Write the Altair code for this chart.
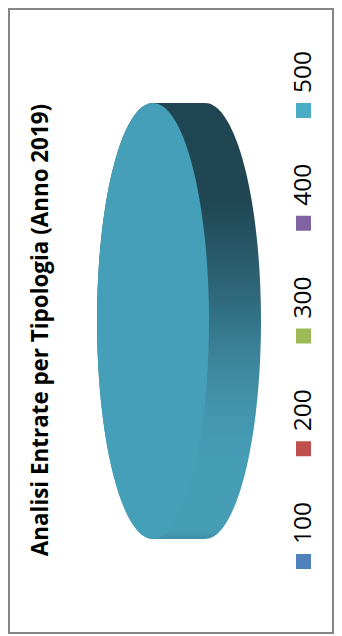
import altair as alt
import pandas as pd

categories = ["100", "200", "300", "400", "500"]
values = [0, 0, 0, 0, 100]
colors = ["#4F81BD", "#C0504D", "#9BBB59", "#8064A2", "#4BACC6"]
title_text = ["Analisi Entrate per Tipologia (Anno 2019)"]

df = pd.DataFrame({"cat": categories, "val": values})
W, H = 324, 624
OX, OY = 9, 9  # page position of the plot origin

RY = 218.0
RX = 56.0 / RY
EX = 52.0 / RY
FACE = f"M0,-1 A{RX},1 0 0,1 0,1 A{RX},1 0 0,1 0,-1 Z"
SIDE = f"M0,-1 L{EX},-1 A{RX},1 0 0,1 {EX},1 L0,1 A{RX},1 0 0,1 0,-1 Z"
SIZE = (2 * RY) ** 2
CX, CY = 153 - OX, 321 - OY

gradient = alt.Gradient(
    gradient="linear", x1=0, x2=0, y1=0, y2=1,
    stops=[
        alt.GradientStop(color="#1F4652", offset=0.0),
        alt.GradientStop(color="#1F4652", offset=0.22),
        alt.GradientStop(color="#2F6A7C", offset=0.45),
        alt.GradientStop(color="#3B8298", offset=0.57),
        alt.GradientStop(color="#4295AD", offset=0.70),
        alt.GradientStop(color="#469DB6", offset=0.82),
        alt.GradientStop(color="#469DB6", offset=0.98),
        alt.GradientStop(color="#3F8FA7", offset=1.0),
    ],
)

base = alt.Chart(df)
shown = base.transform_filter("datum.val > 0")

side = shown.mark_point(filled=True, shape=SIDE, size=SIZE, fill=gradient, opacity=1, strokeWidth=0).encode(
    x=alt.value(CX), y=alt.value(CY))
face = shown.mark_point(filled=True, shape=FACE, size=SIZE, fill="#469FB9", opacity=1, strokeWidth=0).encode(
    x=alt.value(CX), y=alt.value(CY))

ypos = alt.Y("cat:N", sort=categories, axis=None,
             scale=alt.Scale(range=[561.5 - OY, 110.5 - OY], padding=0))

squares = base.mark_square(size=225, opacity=1, strokeWidth=0).encode(
    x=alt.value(303.5 - OX),
    y=ypos,
    color=alt.Color("cat:N", sort=categories, legend=None,
                    scale=alt.Scale(domain=categories, range=colors)),
)
labels = base.mark_text(angle=270, align="left", baseline="middle", font="Open Sans",
                        fontSize=24.5, color="#000000", dy=0).encode(
    x=alt.value(304 - OX),
    y=alt.Y("cat:N", sort=categories, axis=None,
            scale=alt.Scale(range=[544 - OY, 93 - OY], padding=0)),
    text="cat:N",
)
title = alt.Chart(pd.DataFrame({"t": title_text})).mark_text(
    angle=270, align="center", baseline="middle", font="Open Sans", fontWeight="bold",
    fontSize=22.4, color="#000000").encode(
    x=alt.value(41 - OX), y=alt.value(330 - OY), text="t:N")

chart = alt.layer(side, face, squares, labels, title).resolve_scale(y="independent").properties(
    width=W, height=H,
    autosize=alt.AutoSizeParams(type="none"),
    padding={"left": 1, "top": 1, "right": 1, "bottom": 2},
).configure_view(stroke="#868686", strokeWidth=2, fill="#FFFFFF")

chart.save("out.html", embed_options={"renderer": "svg", "actions": False})
